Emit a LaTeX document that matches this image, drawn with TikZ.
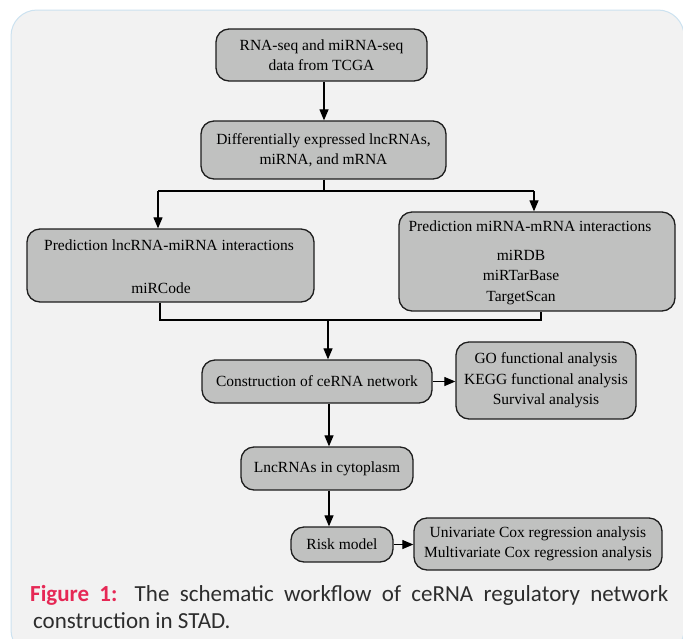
\documentclass[tikz,border=0pt]{standalone}
\usepackage{fontspec}
\setmainfont{Liberation Serif}
\newfontfamily\capfont{Carlito}
\usetikzlibrary{arrows.meta}
\definecolor{panelfill}{RGB}{242,242,242}
\definecolor{panelline}{RGB}{204,226,240}
\definecolor{boxfill}{RGB}{192,193,192}
\definecolor{boxline}{RGB}{30,30,30}
\definecolor{figred}{RGB}{230,40,85}
\definecolor{captext}{RGB}{45,45,45}
\begin{document}
\begin{tikzpicture}[x=1pt,y=-1pt,
  flowbox/.style={draw=boxline, fill=boxfill, line width=1.3pt, rounded corners=13pt, inner sep=0pt, align=center, font=\fontsize{15.5}{20.5}\selectfont, text=black},
  boxtext/.style={inner sep=0pt, align=center, font=\fontsize{15.5}{20.5}\selectfont, text=black},
  conn/.style={draw=black, line width=1.2pt},
  arr/.style={conn, -{Triangle[length=11pt,width=9pt]}},
  captxt/.style={inner sep=0pt, anchor=base west, font=\capfont\fontsize{23}{27}\selectfont, text=captext}]
\useasboundingbox (0,0) rectangle (683,638);
\fill[white] (0,0) rectangle (683,638);
\draw[panelline, fill=panelfill, line width=1pt, rounded corners=26pt] (11,656) -- (11,10) -- (684,10) -- (684,656) -- cycle;

% boxes
\node[flowbox, minimum width=211pt, minimum height=52pt] (n1) at (321.5,55) {RNA-seq and miRNA-seq\\data from TCGA};
\node[flowbox, minimum width=245pt, minimum height=58pt] (n2) at (323.5,150) {Differentially expressed lncRNAs,\\miRNA, and mRNA};
\node[flowbox, minimum width=287pt, minimum height=73pt] (n3) at (170.5,265.5) {};
\node[boxtext] (t3) at (169,266.5) {Prediction lncRNA-miRNA interactions\\[22.5pt]\hspace*{-16pt}miRCode};
\node[flowbox, minimum width=276pt, minimum height=99pt] (n4) at (537,261.5) {};
\node[boxtext] (t4) at (530,262.5) {Prediction miRNA-mRNA interactions\\[8.5pt]\hspace*{-18pt}miRDB\\\hspace*{-18pt}miRTarBase\\\hspace*{-18pt}TargetScan};
\node[flowbox, minimum width=230pt, minimum height=43pt] (n5) at (317,381.5) {Construction of ceRNA network};
\node[flowbox, minimum width=180pt, minimum height=77pt] (n6) at (546,380.5) {GO functional analysis\\KEGG functional analysis\\Survival analysis};
\node[flowbox, minimum width=172pt, minimum height=43pt] (n7) at (327,468.5) {LncRNAs in cytoplasm};
\node[flowbox, minimum width=102pt, minimum height=35pt] (n8) at (342,544.5) {Risk model};
\node[flowbox, minimum width=248pt, minimum height=52pt] (n9) at (538,544) {Univariate Cox regression analysis\\Multivariate Cox regression analysis};

% connectors
\coordinate (j1) at (324,191);
\coordinate (j1l) at (158,191);
\coordinate (j1r) at (534,191);
\coordinate (j2) at (328,320);
\coordinate (j2l) at (160,320);
\coordinate (j2r) at (541,320);
\draw[arr] (n1.south -| 324,0) -- (n2.north -| 324,0);
\draw[conn] (n2.south -| j1) -- (j1);
\draw[conn] (j1l) -- (j1r);
\draw[arr] (j1l) -- (n3.north -| j1l);
\draw[arr] (j1r) -- (n4.north -| j1r);
\draw[conn] (n3.south -| j2l) -- (j2l) -- (j2r) -- (n4.south -| j2r);
\draw[arr] (j2) -- (n5.north -| j2);
\draw[arr] (n5.south -| 329,0) -- (n7.north -| 329,0);
\draw[arr] (n5.east) -- (n6.west |- n5.east);
\draw[arr] (n7.south -| 329,0) -- (n8.north -| 329,0);
\draw[arr] (n8.east) -- (n9.west |- n8.east);

% caption
\node[captxt] (cap1) at (30,601) {\makebox[638pt][s]{\textcolor{figred}{\bfseries Figure 1:} The schematic workflow of ceRNA regulatory network}};
\node[captxt] (cap2) at (33,628) {construction in STAD.};
\end{tikzpicture}
\end{document}
